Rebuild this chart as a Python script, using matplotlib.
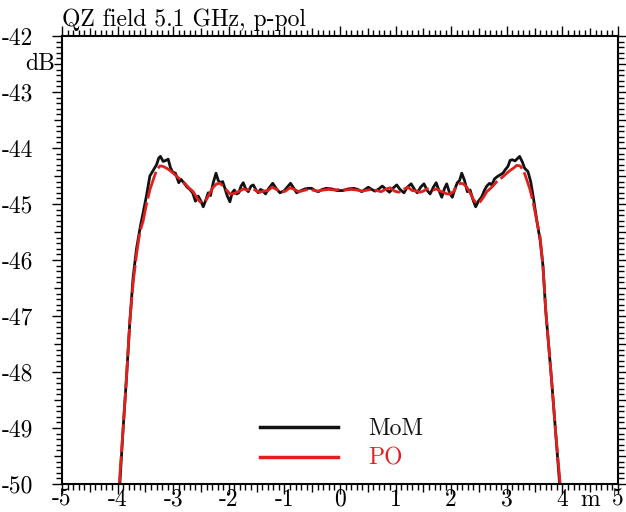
import matplotlib
matplotlib.use("Agg")
import matplotlib.pyplot as plt
from matplotlib.ticker import MultipleLocator
from matplotlib.lines import Line2D

plt.rcParams['font.family'] = ['cmr10', 'DejaVu Serif']
plt.rcParams['axes.unicode_minus'] = False

# MoM field (black)
mom_x = [-3.96, -3.90, -3.84, -3.78, -3.72, -3.66, -3.60, -3.54, -3.48, -3.42,
         -3.36, -3.30, -3.26, -3.23, -3.18, -3.13, -3.09, -3.05, -3.01, -2.96,
         -2.90, -2.86, -2.81, -2.75, -2.70, -2.65, -2.60, -2.55, -2.50, -2.46,
         -2.41, -2.37, -2.33, -2.28, -2.23, -2.19, -2.15, -2.11, -2.07, -2.03,
         -1.98, -1.94, -1.90, -1.86, -1.82, -1.78, -1.74, -1.70, -1.65, -1.60,
         -1.56, -1.51, -1.47, -1.43, -1.39, -1.34, -1.28, -1.21, -1.15, -1.08,
         -1.00, -0.95, -0.89, -0.83, -0.78, -0.70, -0.63, -0.57, -0.51, -0.45,
         -0.39, -0.32, -0.25, -0.15, -0.05, 0.05, 0.15, 0.25, 0.32, 0.39,
         0.45, 0.51, 0.57, 0.63, 0.70, 0.76, 0.83, 0.89, 0.95, 1.02,
         1.08, 1.15, 1.21, 1.28, 1.34, 1.39, 1.45, 1.51, 1.57, 1.62,
         1.68, 1.73, 1.78, 1.83, 1.88, 1.92, 1.97, 2.02, 2.07, 2.11,
         2.15, 2.19, 2.24, 2.29, 2.34, 2.39, 2.44, 2.49, 2.55, 2.60,
         2.64, 2.69, 2.73, 2.78, 2.83, 2.88, 2.93, 2.97, 3.02, 3.06,
         3.10, 3.15, 3.19, 3.23, 3.28, 3.32, 3.38, 3.43, 3.48, 3.54,
         3.60, 3.65, 3.70, 3.76, 3.81, 3.88, 3.95]
mom_db = [-50.0, -49.0, -48.1, -47.1, -46.3, -45.8, -45.45, -45.15, -44.85, -44.5,
          -44.4, -44.3, -44.18, -44.15, -44.24, -44.22, -44.20, -44.35, -44.43, -44.45,
          -44.62, -44.56, -44.62, -44.70, -44.74, -44.80, -44.95, -44.86, -44.95, -45.05,
          -44.92, -44.80, -44.85, -44.62, -44.45, -44.58, -44.62, -44.60, -44.72, -44.85,
          -44.96, -44.80, -44.75, -44.82, -44.80, -44.68, -44.62, -44.72, -44.78, -44.68,
          -44.66, -44.75, -44.80, -44.74, -44.76, -44.82, -44.72, -44.63, -44.72, -44.80,
          -44.76, -44.70, -44.63, -44.72, -44.80, -44.76, -44.73, -44.72, -44.72, -44.76,
          -44.78, -44.74, -44.72, -44.73, -44.76, -44.76, -44.73, -44.72, -44.74, -44.78,
          -44.74, -44.70, -44.74, -44.77, -44.73, -44.68, -44.74, -44.79, -44.72, -44.66,
          -44.74, -44.80, -44.70, -44.64, -44.74, -44.80, -44.70, -44.64, -44.76, -44.82,
          -44.70, -44.62, -44.76, -44.88, -44.72, -44.64, -44.80, -44.88, -44.72, -44.62,
          -44.58, -44.45, -44.58, -44.78, -44.75, -44.92, -45.05, -44.95, -44.87, -44.75,
          -44.68, -44.63, -44.66, -44.55, -44.51, -44.48, -44.45, -44.39, -44.33, -44.22,
          -44.21, -44.23, -44.19, -44.15, -44.25, -44.36, -44.42, -44.60, -44.90, -45.3,
          -45.65, -46.1, -46.9, -47.6, -48.2, -49.1, -50.0]

# PO field (red, dashed)
po_x = [-3.97, -3.90, -3.84, -3.78, -3.72, -3.66, -3.60, -3.54, -3.48, -3.42,
        -3.36, -3.30, -3.24, -3.18, -3.12, -3.06, -3.00, -2.91, -2.82, -2.73,
        -2.64, -2.58, -2.52, -2.46, -2.40, -2.34, -2.28, -2.22, -2.16, -2.10,
        -2.04, -1.98, -1.92, -1.86, -1.80, -1.74, -1.68, -1.62, -1.56, -1.50,
        -1.44, -1.38, -1.30, -1.22, -1.14, -1.06, -0.98, -0.90, -0.82, -0.74,
        -0.66, -0.58, -0.50, -0.40, -0.30, -0.20, -0.10, 0.0, 0.10, 0.20,
        0.30, 0.40, 0.50, 0.58, 0.66, 0.74, 0.82, 0.90, 0.98, 1.06,
        1.14, 1.22, 1.30, 1.38, 1.44, 1.50, 1.56, 1.62, 1.68, 1.74,
        1.80, 1.86, 1.92, 1.98, 2.04, 2.10, 2.16, 2.22, 2.28, 2.34,
        2.40, 2.46, 2.52, 2.58, 2.64, 2.73, 2.82, 2.91, 3.00, 3.06,
        3.12, 3.18, 3.24, 3.30, 3.36, 3.42, 3.48, 3.54, 3.60, 3.65,
        3.70, 3.76, 3.81, 3.88, 3.96]
po_db = [-50.0, -49.0, -48.1, -47.1, -46.4, -45.9, -45.5, -45.3, -45.0, -44.75,
         -44.57, -44.40, -44.32, -44.33, -44.36, -44.40, -44.45, -44.53, -44.60, -44.70,
         -44.78, -44.88, -44.96, -44.97, -44.92, -44.80, -44.70, -44.64, -44.63, -44.68,
         -44.75, -44.82, -44.82, -44.79, -44.77, -44.73, -44.75, -44.74, -44.73, -44.77,
         -44.79, -44.77, -44.76, -44.70, -44.74, -44.79, -44.77, -44.71, -44.74, -44.78,
         -44.76, -44.74, -44.75, -44.77, -44.75, -44.74, -44.75, -44.74, -44.75, -44.74,
         -44.75, -44.77, -44.75, -44.74, -44.76, -44.78, -44.74, -44.71, -44.77, -44.79,
         -44.74, -44.70, -44.76, -44.77, -44.79, -44.77, -44.73, -44.74, -44.75, -44.73,
         -44.77, -44.79, -44.82, -44.82, -44.78, -44.68, -44.63, -44.64, -44.70, -44.80,
         -44.92, -44.99, -44.96, -44.88, -44.78, -44.70, -44.60, -44.53, -44.45, -44.40,
         -44.36, -44.31, -44.32, -44.40, -44.57, -44.75, -45.0, -45.3, -45.6, -46.1,
         -46.9, -47.6, -48.2, -49.1, -50.0]

x_ticks = [-5, -4, -3, -2, -1, 0, 1, 2, 3, 4, 5]
x_labels = ['-5', '-4', '-3', '-2', '-1', '0', '1', '2', '3', '4', '5']
y_ticks = [-50, -49, -48, -47, -46, -45, -44, -43, -42]
y_labels = ['-50', '-49', '-48', '-47', '-46', '-45', '-44', '-43', '-42']

fig = plt.figure(figsize=(6.26, 5.12), dpi=100)
ax = fig.add_axes([62 / 626, 28 / 512, 556 / 626, 448 / 512])

ax.plot(mom_x, mom_db, color='#111111', linewidth=2.0)
ax.plot(po_x, po_db, color='#e0201c', linewidth=2.0, dashes=(10, 1.5))

ax.set_xlim(-5, 5)
ax.set_ylim(-50, -42)

# ticks on all four sides, pointing out
ax.set_xticks(x_ticks)
ax.set_xticklabels(x_labels)
ax.set_yticks(y_ticks)
ax.set_yticklabels(y_labels)
ax.xaxis.set_minor_locator(MultipleLocator(0.1))
ax.yaxis.set_minor_locator(MultipleLocator(0.1))
ax.tick_params(which='both', direction='out', top=True, right=True,
               labelsize=17, width=1.0, color='black')
ax.tick_params(which='major', length=7)
ax.tick_params(which='minor', length=4)
ax.tick_params(axis='x', which='major', pad=-3.5)
ax.tick_params(axis='y', which='major', pad=14)

# the half-way minor ticks are a bit longer
for locs, ticks in [(ax.xaxis.get_minorticklocs(), ax.xaxis.get_minor_ticks()),
                    (ax.yaxis.get_minorticklocs(), ax.yaxis.get_minor_ticks())]:
    for v, t in zip(locs, ticks):
        if abs(abs(v * 2) % 2 - 1) < 1e-6:
            t.tick1line.set_markersize(5.5)
            t.tick2line.set_markersize(5.5)

for s in ax.spines.values():
    s.set_linewidth(1.5)

# unit labels
ax.text(-5.12, -42.5, 'dB', fontsize=17, ha='right', va='center')
ax.annotate('m', xy=(4.5, 0), xycoords=ax.get_xaxis_transform(),
            xytext=(0, -3.5), textcoords='offset points',
            fontsize=17, ha='center', va='top')

# title
fig.text(62 / 626, 1 - 26 / 512, 'QZ field 5.1 GHz, p-pol', fontsize=17,
         ha='left', va='baseline')

# legend
handles = [Line2D([], [], color='#111111', linewidth=2.5),
           Line2D([], [], color='#e0201c', linewidth=2.5)]
leg = ax.legend(handles, ['MoM', 'PO'], loc='lower left',
                bbox_to_anchor=(0.318, -0.016), frameon=False, fontsize=17,
                handlelength=3.3, handletextpad=1.27, labelspacing=0.32,
                labelcolor=['#111111', '#e0201c'])

fig.savefig('out.png', dpi=100)
